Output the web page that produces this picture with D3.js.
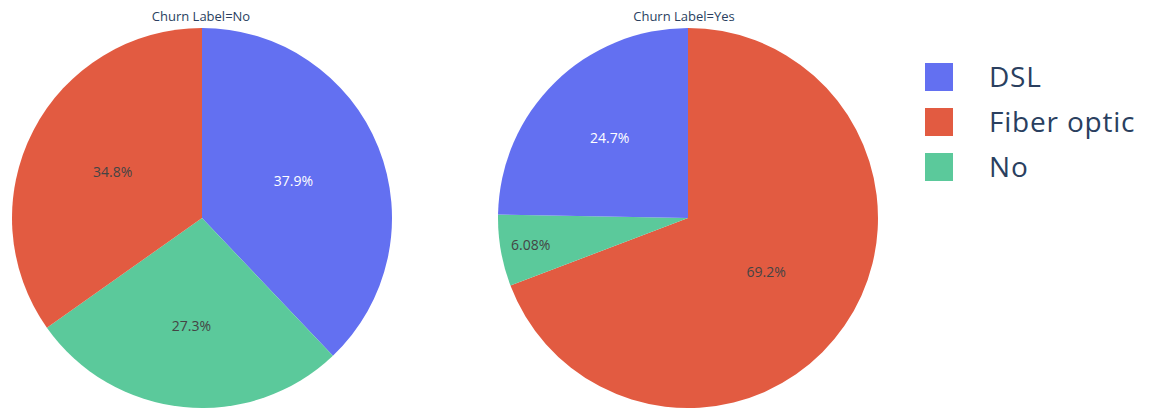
<!DOCTYPE html>
<html>
<head>
<meta charset="utf-8">
<script src="https://cdn.jsdelivr.net/npm/d3@7"></script>
<style>
  html, body { margin: 0; padding: 0; background: #fff; }
  svg { display: block; font-family: "Open Sans", "Noto Sans", sans-serif; }
</style>
</head>
<body>
<svg id="chart" width="1157" height="413"></svg>
<script>
// Internet service share by churn label
const categories = ["DSL", "Fiber optic", "No"];
const panelTitles = ["Churn Label=No", "Churn Label=Yes"];
const sharesChurnNo = [37.9, 34.8, 27.3];
const sharesChurnYes = [24.7, 69.2, 6.08];

const colors = { "DSL": "#6370f1", "Fiber optic": "#e25b41", "No": "#5bc99b" };
const labelColors = { "DSL": "#ffffff", "Fiber optic": "#444444", "No": "#444444" };

const W = 1157, H = 413;
const svg = d3.select("#chart");
svg.append("rect").attr("width", W).attr("height", H).attr("fill", "#fff");

const radius = 190;
const panels = [
  { title: panelTitles[0], values: sharesChurnNo, cx: 202, cy: 218, titleX: 201 },
  { title: panelTitles[1], values: sharesChurnYes, cx: 688, cy: 218, titleX: 684 }
];

const arc = d3.arc().innerRadius(0).outerRadius(radius);

panels.forEach(p => {
  const rows = categories.map((c, i) => ({ cat: c, v: p.values[i] }));
  // largest slice starts at 12 o'clock going clockwise, the rest follow
  // counterclockwise from 12 o'clock (descending order)
  const sorted = rows.slice().sort((a, b) => b.v - a.v);
  const ordered = [sorted[0]].concat(sorted.slice(1).reverse());
  const total = d3.sum(ordered, d => d.v);

  const pie = d3.pie().sort(null).value(d => d.v);
  const arcs = pie(ordered);

  const g = svg.append("g").attr("transform", `translate(${p.cx},${p.cy})`);

  g.selectAll("path.slice")
    .data(arcs)
    .join("path")
    .attr("class", "slice")
    .attr("d", arc)
    .attr("fill", d => colors[d.data.cat]);

  // inside text centred on the slice's inscribed circle
  g.selectAll("text.pct")
    .data(arcs)
    .join("text")
    .attr("class", "pct")
    .each(function(d) {
      const frac = d.data.v / total;
      const half = Math.PI * Math.min(frac, 0.5);
      const rIns = Math.min(1 / (1 + 1 / Math.sin(half)), 0.5);
      const rc = (1 - rIns) * radius;
      const mid = (d.startAngle + d.endAngle) / 2;
      d3.select(this)
        .attr("x", rc * Math.sin(mid))
        .attr("y", -rc * Math.cos(mid))
        .attr("dy", "0.35em");
    })
    .attr("text-anchor", "middle")
    .attr("font-size", 14)
    .attr("fill", d => labelColors[d.data.cat])
    .text(d => {
      const pct = d.data.v;
      return (pct < 10 ? d3.format(".3~")(pct) : d3.format(".3")(pct)) + "%";
    });

  svg.append("text")
    .attr("x", p.titleX)
    .attr("y", 21)
    .attr("text-anchor", "middle")
    .attr("font-size", 13)
    .attr("fill", "#2a3f5f")
    .text(p.title);
});

// legend
const legend = svg.append("g").attr("transform", "translate(925,63)");
const item = legend.selectAll("g")
  .data(categories)
  .join("g")
  .attr("transform", (d, i) => `translate(0,${i * 45})`);
item.append("rect")
  .attr("width", 28).attr("height", 28)
  .attr("fill", d => colors[d]);
item.append("text")
  .attr("x", 64)
  .attr("y", 14)
  .attr("dy", "0.35em")
  .attr("font-size", 28)
  .attr("letter-spacing", 0.8)
  .attr("fill", "#2a3f5f")
  .text(d => d);
</script>
</body>
</html>
